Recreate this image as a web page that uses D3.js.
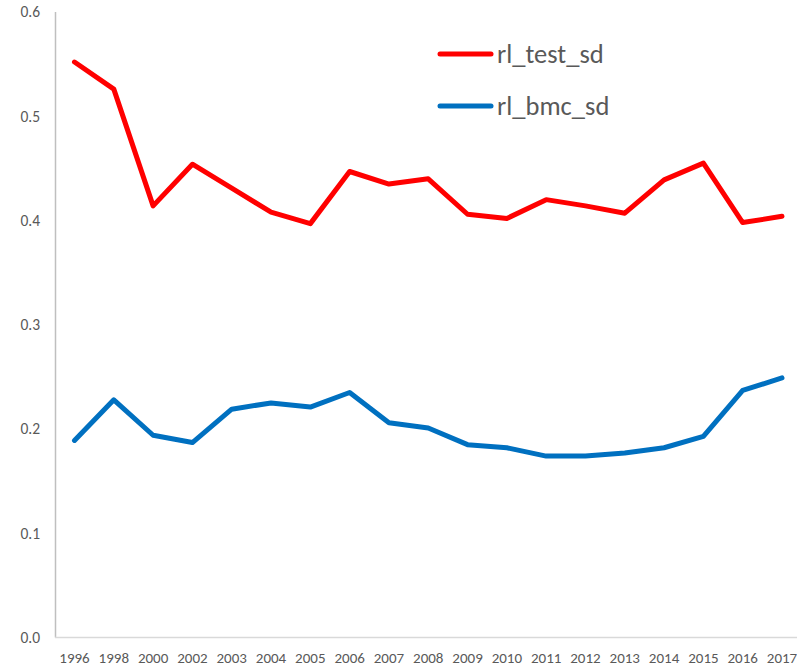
<!DOCTYPE html>
<html><head><meta charset="utf-8">
<script src="https://cdn.jsdelivr.net/npm/d3@7"></script>
<style>body{margin:0;background:#fff}svg{display:block}</style>
</head><body>
<svg id="c" width="797" height="666"></svg>
<script>
const years = ["1996","1998","2000","2002","2003","2004","2005","2006","2007","2008","2009","2010","2011","2012","2013","2014","2015","2016","2017"];
const rlTestSd = [0.552,0.526,0.414,0.454,0.431,0.408,0.397,0.447,0.435,0.440,0.406,0.402,0.420,0.414,0.407,0.439,0.455,0.398,0.404];
const rlBmcSd  = [0.189,0.228,0.194,0.187,0.219,0.225,0.221,0.235,0.206,0.201,0.185,0.182,0.174,0.174,0.177,0.182,0.193,0.237,0.249];
const yTicks = [0,0.1,0.2,0.3,0.4,0.5,0.6];
const seriesNames = ["rl_test_sd","rl_bmc_sd"];
const colors = ["#FF0000","#0070C0"];

const svg = d3.select("#c");
const font = "Carlito, Calibri, 'Liberation Sans', sans-serif";
const x = d3.scalePoint().domain(years).range([74.5, 782]);
const y = d3.scaleLinear().domain([0,0.6]).range([637.5, 12]);

// axes lines
svg.append("line").attr("x1",55.5).attr("x2",55.5).attr("y1",12).attr("y2",637.5)
  .attr("stroke","#bfbfbf").attr("stroke-width",1.5);
svg.append("line").attr("x1",55).attr("x2",797).attr("y1",637.5).attr("y2",637.5)
  .attr("stroke","#d9d9d9").attr("stroke-width",1.5);

// y tick labels
svg.append("g").selectAll("text").data(yTicks).join("text")
  .attr("x",40).attr("y",d=>y(d)).attr("dy","0.35em").attr("text-anchor","end")
  .attr("font-family",font).attr("font-size",15.5).attr("fill","#595959")
  .text(d=>d3.format(".1f")(d));

// x tick labels
svg.append("g").selectAll("text").data(years).join("text")
  .attr("x",d=>x(d)).attr("y",663).attr("text-anchor","middle")
  .attr("font-family",font).attr("font-size",15).attr("fill","#595959")
  .text(d=>d);

const line = d3.line().x((d,i)=>x(years[i])).y(d=>y(d));
[rlTestSd, rlBmcSd].forEach((s,k)=>{
  svg.append("path").attr("d",line(s)).attr("fill","none")
    .attr("stroke",colors[k]).attr("stroke-width",5)
    .attr("stroke-linejoin","round").attr("stroke-linecap","round");
});

// legend
const lg = svg.append("g");
seriesNames.forEach((n,k)=>{
  const ly = 54 + k*52;
  lg.append("line").attr("x1",440).attr("x2",491).attr("y1",ly).attr("y2",ly)
    .attr("stroke",colors[k]).attr("stroke-width",5).attr("stroke-linecap","round");
  lg.append("text").attr("x",497).attr("y",ly).attr("dy","0.35em")
    .attr("font-family",font).attr("font-size",26.5).attr("fill","#595959").text(n);
});
</script>
</body></html>
